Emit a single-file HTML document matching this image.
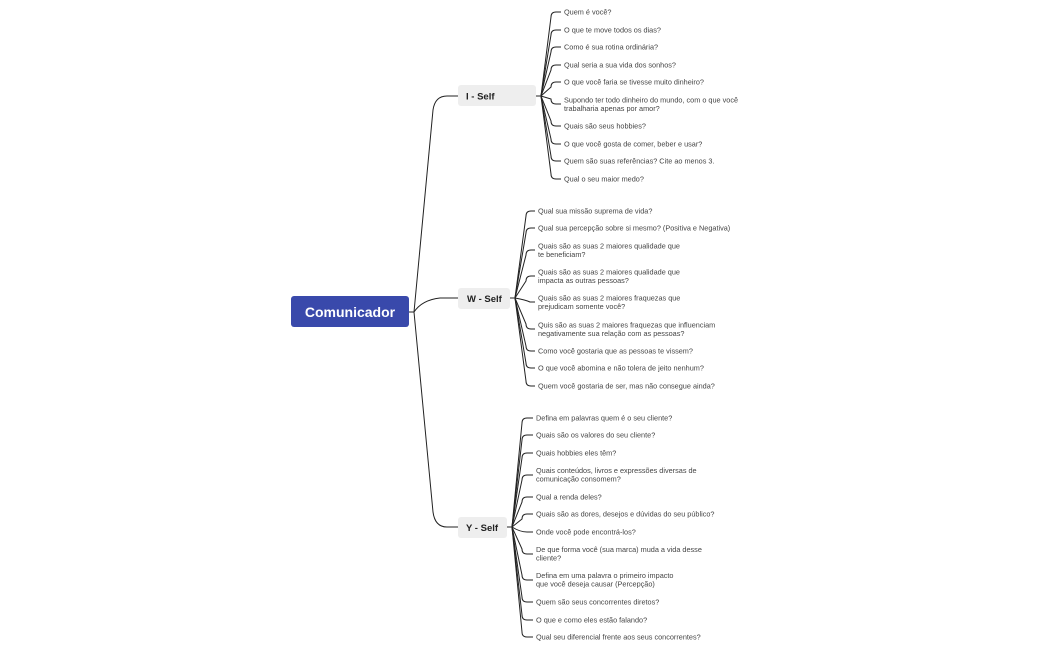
<!DOCTYPE html>
<html><head><meta charset="utf-8"><style>
html,body{margin:0;padding:0;background:#fff;width:1050px;height:650px;overflow:hidden}
svg{display:block}
text{font-family:"Liberation Sans",sans-serif}
.t{font-size:7.3px;fill:#444}
.b{font-size:9.5px;fill:#222;font-weight:bold}
path{fill:none;stroke:#222;stroke-width:1}
</style></head><body>
<svg width="1050" height="650" viewBox="0 0 1050 650">
<!-- root connectors -->
<path d="M409,312 L414,312 L433,110 Q435,96 447,96 L458,96"/>
<path d="M409,312 L414,312 Q422,300 440,298 L458,298"/>
<path d="M409,312 L414,312 L433,512 Q435,527 447,527 L458,527"/>
<rect x="291" y="296" width="118" height="31" rx="3" fill="#3949ab"/>
<text x="350" y="317" text-anchor="middle" style="font-size:14px;font-weight:bold;fill:#fff">Comunicador</text>

<rect x="458" y="85" width="78" height="21" rx="3" fill="#eeeeee"/>
<text x="466" y="99.5" class="b">I - Self</text>
<rect x="458" y="288" width="52" height="21" rx="3" fill="#eeeeee"/>
<text x="467" y="302" class="b">W - Self</text>
<rect x="458" y="517" width="49" height="21" rx="3" fill="#eeeeee"/>
<text x="466" y="531" class="b">Y - Self</text>

<!-- I children -->
<path d="M536,96 L541,96 L551,17 Q551,12 556,12 L561,12"/>
<path d="M536,96 L541,96 L551,35 Q551,30 556,30 L561,30"/>
<path d="M536,96 L541,96 L551,52 Q551,47 556,47 L561,47"/>
<path d="M536,96 L541,96 L551,70 Q551,65 556,65 L561,65"/>
<path d="M536,96 L541,96 L551,87 Q551,82 556,82 L561,82"/>
<path d="M536,96 L541,96 L551,99 Q551,104 556,104 L561,104"/>
<path d="M536,96 L541,96 L551,121 Q551,126 556,126 L561,126"/>
<path d="M536,96 L541,96 L551,139 Q551,144 556,144 L561,144"/>
<path d="M536,96 L541,96 L551,156 Q551,161 556,161 L561,161"/>
<path d="M536,96 L541,96 L551,174 Q551,179 556,179 L561,179"/>
<text class="t" x="564" y="14.5">Quem é você?</text>
<text class="t" x="564" y="32.5">O que te move todos os dias?</text>
<text class="t" x="564" y="49.5">Como é sua rotina ordinária?</text>
<text class="t" x="564" y="67.5">Qual seria a sua vida dos sonhos?</text>
<text class="t" x="564" y="84.5">O que você faria se tivesse muito dinheiro?</text>
<text class="t" x="564" y="102.5">Supondo ter todo dinheiro do mundo, com o que você</text>
<text class="t" x="564" y="111">trabalharia apenas por amor?</text>
<text class="t" x="564" y="128.5">Quais são seus hobbies?</text>
<text class="t" x="564" y="146.5">O que você gosta de comer, beber e usar?</text>
<text class="t" x="564" y="163.5">Quem são suas referências? Cite ao menos 3.</text>
<text class="t" x="564" y="181.5">Qual o seu maior medo?</text>

<!-- W children -->
<path d="M510,298 L515,298 L526,216 Q526,211 531,211 L535,211"/>
<path d="M510,298 L515,298 L526,233 Q526,228 531,228 L535,228"/>
<path d="M510,298 L515,298 L526,255 Q526,250 531,250 L535,250"/>
<path d="M510,298 L515,298 L526,281 Q526,276 531,276 L535,276"/>
<path d="M510,298 L515,298 Q526,300 530,302 L535,302"/>
<path d="M510,298 L515,298 L526,324 Q526,329 531,329 L535,329"/>
<path d="M510,298 L515,298 L526,346 Q526,351 531,351 L535,351"/>
<path d="M510,298 L515,298 L526,363 Q526,368 531,368 L535,368"/>
<path d="M510,298 L515,298 L526,381 Q526,386 531,386 L535,386"/>
<text class="t" x="538" y="213.5">Qual sua missão suprema de vida?</text>
<text class="t" x="538" y="230.5">Qual sua percepção sobre si mesmo? (Positiva e Negativa)</text>
<text class="t" x="538" y="248.5">Quais são as suas 2 maiores qualidade que</text>
<text class="t" x="538" y="257">te beneficiam?</text>
<text class="t" x="538" y="274.5">Quais são as suas 2 maiores qualidade que</text>
<text class="t" x="538" y="283">impacta as outras pessoas?</text>
<text class="t" x="538" y="300.5">Quais são as suas 2 maiores fraquezas que</text>
<text class="t" x="538" y="309">prejudicam somente você?</text>
<text class="t" x="538" y="327.5">Quis são as suas 2 maiores fraquezas que influenciam</text>
<text class="t" x="538" y="336">negativamente sua relação com as pessoas?</text>
<text class="t" x="538" y="353.5">Como você gostaria que as pessoas te vissem?</text>
<text class="t" x="538" y="370.5">O que você abomina e não tolera de jeito nenhum?</text>
<text class="t" x="538" y="388.5">Quem você gostaria de ser, mas não consegue ainda?</text>

<!-- Y children -->
<path d="M507,527 L512,527 L522,423 Q522,418 527,418 L533,418"/>
<path d="M507,527 L512,527 L522,440 Q522,435 527,435 L533,435"/>
<path d="M507,527 L512,527 L522,458 Q522,453 527,453 L533,453"/>
<path d="M507,527 L512,527 L522,480 Q522,475 527,475 L533,475"/>
<path d="M507,527 L512,527 L522,502 Q522,497 527,497 L533,497"/>
<path d="M507,527 L512,527 L522,519 Q522,514 527,514 L533,514"/>
<path d="M507,527 L512,527 Q520,532 527,532 L533,532"/>
<path d="M507,527 L512,527 L522,549 Q522,554 527,554 L533,554"/>
<path d="M507,527 L512,527 L522,575 Q522,580 527,580 L533,580"/>
<path d="M507,527 L512,527 L522,597 Q522,602 527,602 L533,602"/>
<path d="M507,527 L512,527 L522,615 Q522,620 527,620 L533,620"/>
<path d="M507,527 L512,527 L522,632 Q522,637 527,637 L533,637"/>
<text class="t" x="536" y="420.5">Defina em palavras quem é o seu cliente?</text>
<text class="t" x="536" y="437.5">Quais são os valores do seu cliente?</text>
<text class="t" x="536" y="455.5">Quais hobbies eles têm?</text>
<text class="t" x="536" y="473">Quais conteúdos, livros e expressões diversas de</text>
<text class="t" x="536" y="481.5">comunicação consomem?</text>
<text class="t" x="536" y="499.5">Qual a renda deles?</text>
<text class="t" x="536" y="516.5">Quais são as dores, desejos e dúvidas do seu público?</text>
<text class="t" x="536" y="534.5">Onde você pode encontrá-los?</text>
<text class="t" x="536" y="552">De que forma você (sua marca) muda a vida desse</text>
<text class="t" x="536" y="560.5">cliente?</text>
<text class="t" x="536" y="578">Defina em uma palavra o primeiro impacto</text>
<text class="t" x="536" y="586.5">que você deseja causar (Percepção)</text>
<text class="t" x="536" y="604.5">Quem são seus concorrentes diretos?</text>
<text class="t" x="536" y="622.5">O que e como eles estão falando?</text>
<text class="t" x="536" y="639.5">Qual seu diferencial frente aos seus concorrentes?</text>
</svg>
</body></html>
